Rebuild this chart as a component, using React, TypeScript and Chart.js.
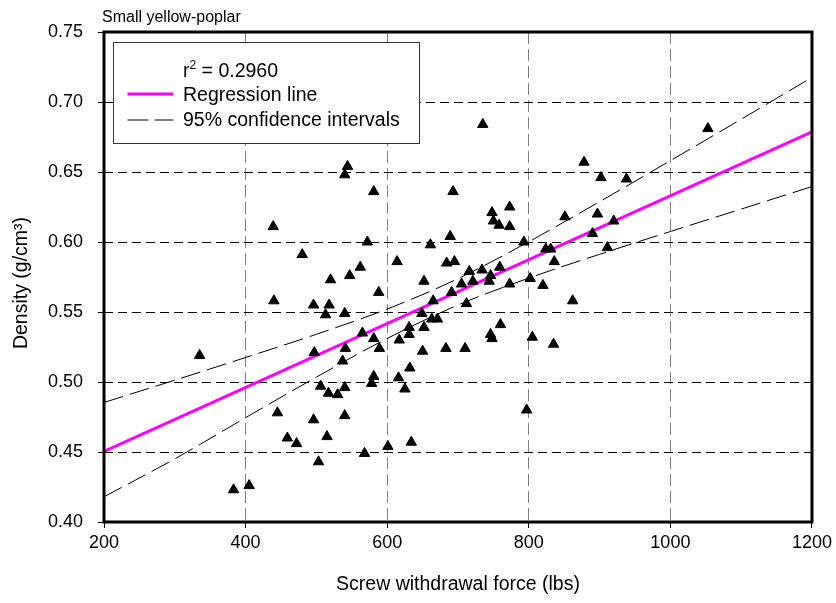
import React, { useEffect, useRef } from 'react';
import { Chart, registerables } from 'chart.js';

Chart.register(...registerables);

const FONT = '"Liberation Sans", Arial, sans-serif';

const chartTitle = 'Small yellow-poplar';
const xTitle = 'Screw withdrawal force (lbs)';
const yTitle = 'Density (g/cm\u00B3)';
const legendR2 = '0.2960';
const legendRegression = 'Regression line';
const legendCI = '95% confidence intervals';

const xMin = 200;
const xMax = 1200;
const xStep = 200;
const yMin = 0.4;
const yMax = 0.75;
const yStep = 0.05;

// Screw withdrawal force (lbs)
const withdrawalForce = [
  335, 439, 480, 440, 496, 518, 513, 540, 520, 547,
  562, 544, 540, 581, 572, 588, 497, 541, 537, 506,
  517, 530, 540, 445, 540, 496, 459, 472, 515, 503,
  383, 405, 565, 581, 589, 617, 631, 631, 650, 683,
  710, 649, 663, 671, 652, 665, 712, 691, 746, 748,
  760, 805, 835, 862, 632, 581, 616, 578, 625, 568,
  601, 634, 797, 693, 748, 773, 750, 758, 773, 851,
  661, 689, 793, 824, 831, 836, 614, 684, 695, 716,
  734, 759, 705, 721, 746, 744, 652, 773, 802, 820,
  1053, 878, 902, 938, 897, 920, 890, 911, 735,
];

// Density (g/cm3)
const density = [
  0.519, 0.611, 0.591, 0.558, 0.555, 0.555, 0.548, 0.549, 0.573, 0.576,
  0.582, 0.654, 0.648, 0.636, 0.600, 0.564, 0.521, 0.524, 0.515, 0.497,
  0.492, 0.491, 0.496, 0.478, 0.476, 0.473, 0.460, 0.456, 0.461, 0.443,
  0.423, 0.426, 0.535, 0.531, 0.524, 0.530, 0.539, 0.534, 0.522, 0.524,
  0.524, 0.549, 0.545, 0.545, 0.539, 0.558, 0.556, 0.564, 0.534, 0.531,
  0.541, 0.532, 0.527, 0.558, 0.510, 0.504, 0.503, 0.499, 0.495, 0.449,
  0.454, 0.457, 0.480, 0.636, 0.621, 0.625, 0.615, 0.612, 0.611, 0.618,
  0.598, 0.604, 0.600, 0.595, 0.595, 0.586, 0.586, 0.585, 0.586, 0.579,
  0.580, 0.582, 0.570, 0.572, 0.576, 0.572, 0.572, 0.570, 0.574, 0.569,
  0.681, 0.657, 0.646, 0.645, 0.620, 0.615, 0.606, 0.596, 0.684,
];

// Regression line end points
const regressionX = [200, 1200];
const regressionY = [0.4504, 0.6786];

// 95% confidence interval curves
const ciX = [200, 300, 400, 500, 600, 700, 800, 900, 1000, 1100, 1200];
const ciUpper = [0.4854, 0.5013, 0.5175, 0.5341, 0.5521, 0.5738, 0.6002, 0.6288, 0.6581, 0.6877, 0.7176];
const ciLower = [0.4180, 0.4451, 0.4745, 0.5035, 0.5311, 0.5550, 0.5742, 0.5912, 0.6075, 0.6235, 0.6396];

const toPoints = (xs: number[], ys: number[]) => xs.map((x, i) => ({ x, y: ys[i] }));

const decorPlugin = {
  id: 'decor',
  afterDatasetsDraw(chart: any) {
    const { ctx, chartArea: a } = chart;
    ctx.save();
    // plot border
    ctx.setLineDash([]);
    ctx.strokeStyle = '#000';
    ctx.lineWidth = 3;
    ctx.strokeRect(a.left, a.top, a.right - a.left, a.bottom - a.top);

    // legend box
    const bx = a.left + 9.5;
    const by = a.top + 10.5;
    const bw = 306;
    const bh = 101;
    ctx.fillStyle = '#fff';
    ctx.fillRect(bx, by, bw, bh);
    ctx.lineWidth = 1;
    ctx.strokeStyle = '#333';
    ctx.strokeRect(bx, by, bw, bh);

    const tx = bx + 69.5;
    ctx.fillStyle = '#000';
    ctx.textAlign = 'left';
    ctx.textBaseline = 'alphabetic';
    const big = `19.5px ${FONT}`;
    const small = `12px ${FONT}`;
    ctx.font = big;
    ctx.fillText('r', tx, by + 34);
    const rw = ctx.measureText('r').width;
    ctx.font = small;
    ctx.fillText('2', tx + rw, by + 26);
    const sw = ctx.measureText('2').width;
    ctx.font = big;
    ctx.fillText(' = ' + legendR2, tx + rw + sw, by + 34);
    ctx.fillText(legendRegression, tx, by + 58.5);
    ctx.fillText(legendCI, tx, by + 83.5);

    // legend samples
    ctx.strokeStyle = '#FF00FF';
    ctx.lineWidth = 3;
    ctx.beginPath();
    ctx.moveTo(bx + 14, by + 51.5);
    ctx.lineTo(bx + 60, by + 51.5);
    ctx.stroke();
    ctx.strokeStyle = '#000';
    ctx.lineWidth = 1;
    ctx.setLineDash([21, 6]);
    ctx.beginPath();
    ctx.moveTo(bx + 14, by + 77.5);
    ctx.lineTo(bx + 60, by + 77.5);
    ctx.stroke();
    ctx.setLineDash([]);

    ctx.restore();
  },
  afterDraw(chart: any) {
    const { ctx, chartArea: a } = chart;
    ctx.save();
    ctx.fillStyle = '#000';
    ctx.textBaseline = 'alphabetic';
    ctx.textAlign = 'left';
    ctx.font = `16px ${FONT}`;
    ctx.fillText(chartTitle, a.left - 2, 22);

    ctx.textAlign = 'center';
    ctx.font = `19.5px ${FONT}`;
    ctx.fillText(xTitle, (a.left + a.right) / 2, 590);

    ctx.translate(22, (a.top + a.bottom) / 2 + 6);
    ctx.rotate(-Math.PI / 2);
    ctx.textBaseline = 'middle';
    ctx.fillText(yTitle, 0, 0);
    ctx.restore();
  },
};

export default function App() {
  const canvasRef = useRef<HTMLCanvasElement | null>(null);

  useEffect(() => {
    if (!canvasRef.current) return;
    Chart.defaults.color = '#000';
    const chart = new Chart(canvasRef.current, {
      type: 'scatter',
      data: {
        datasets: [
          {
            label: 'Observations',
            data: toPoints(withdrawalForce, density),
            pointStyle: 'triangle',
            pointRadius: 6,
            pointHoverRadius: 6,
            backgroundColor: '#000',
            borderColor: '#000',
            borderWidth: 1,
            showLine: false,
          },
          {
            label: 'Regression line',
            data: toPoints(regressionX, regressionY),
            showLine: true,
            borderColor: '#FF00FF',
            backgroundColor: '#FF00FF',
            borderWidth: 3,
            pointRadius: 0,
          },
          {
            label: 'Upper 95%',
            data: toPoints(ciX, ciUpper),
            showLine: true,
            borderColor: '#000',
            borderWidth: 1,
            borderDash: [20, 7],
            pointRadius: 0,
            cubicInterpolationMode: 'monotone',
          },
          {
            label: 'Lower 95%',
            data: toPoints(ciX, ciLower),
            showLine: true,
            borderColor: '#000',
            borderWidth: 1,
            borderDash: [20, 7],
            pointRadius: 0,
            cubicInterpolationMode: 'monotone',
          },
        ],
      },
      options: {
        responsive: false,
        animation: false,
        events: [],
        layout: { padding: { top: 32, right: 22, left: 0, bottom: 0 } },
        plugins: {
          legend: { display: false },
          tooltip: { enabled: false },
          title: { display: false },
        },
        scales: {
          x: {
            type: 'linear',
            min: xMin,
            max: xMax,
            afterFit: (s: any) => { s.height = 81; },
            ticks: {
              stepSize: xStep,
              maxRotation: 0,
              padding: 4,
              color: '#000',
              font: { family: FONT, size: 18 },
              callback: (v: any) => String(v),
            },
            grid: {
              color: '#808080',
              lineWidth: 1,
              tickLength: 6,
              tickColor: '#000',
              tickWidth: 1,
              tickBorderDash: [],
              borderDash: [12, 5],
            } as any,
            border: { display: false, dash: [12, 5] },
          },
          y: {
            type: 'linear',
            min: yMin,
            max: yMax,
            afterFit: (s: any) => { s.width = 104; },
            ticks: {
              stepSize: yStep,
              padding: 15,
              color: '#000',
              font: { family: FONT, size: 18 },
              callback: (v: any) => Number(v).toFixed(2),
            },
            grid: {
              color: '#000',
              lineWidth: 1,
              tickLength: 6,
              tickColor: '#000',
              tickWidth: 1,
              tickBorderDash: [],
              borderDash: [9, 5],
            } as any,
            border: { display: false, dash: [9, 5] },
          },
        },
      },
      plugins: [decorPlugin],
    } as any);
    return () => chart.destroy();
  }, []);

  return (
    <div style={{ position: 'absolute', left: 0, top: 0, width: 836, height: 603, background: '#fff' }}>
      <canvas ref={canvasRef} width={836} height={603} style={{ display: 'block' }} />
    </div>
  );
}
